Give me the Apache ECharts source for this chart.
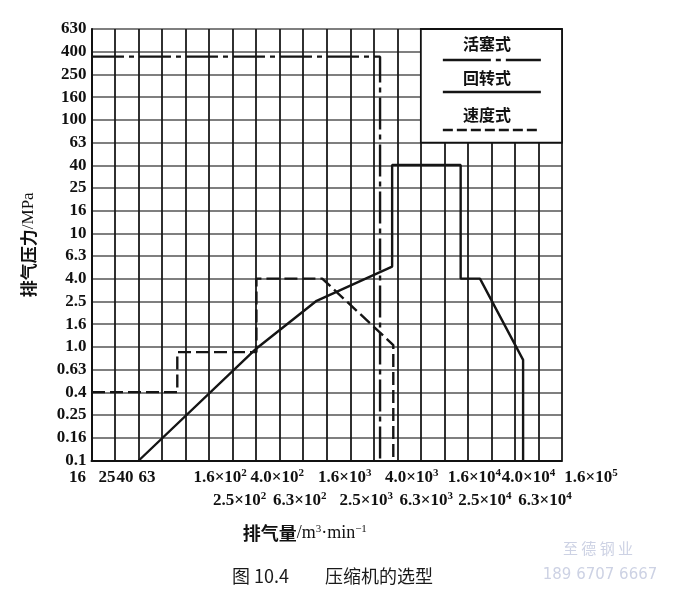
<!DOCTYPE html>
<html><head><meta charset="utf-8">
<script src="https://cdn.jsdelivr.net/npm/echarts@6/dist/echarts.min.js"></script>
<style>html,body{margin:0;padding:0;background:#fff}#c{width:700px;height:597px}</style>
</head><body><div id="c"></div>
<script>
// ---------- data ----------
// flow in m3/min, pressure in MPa
const pistonFlow       = [16, 4500, 4500];
const pistonPressure   = [360, 360, 0.1];
const rotaryFlow       = [40, 400, 1300, 5700, 5700, 21800, 21800, 31800, 74000, 74000];
const rotaryPressure   = [0.1, 0.97, 2.55, 5.1, 40, 40, 4.0, 4.0, 0.77, 0.1];
const velocityFlow     = [16, 85, 85, 400, 400, 1450, 4950, 5830, 5830];
const velocityPressure = [0.4, 0.4, 0.9, 0.9, 4.0, 4.0, 1.22, 1.04, 0.1];

// tick labels (grid steps of 10^0.2); '^' marks a superscript
const yTickLabels = ['0.1','0.16','0.25','0.4','0.63','1.0','1.6','2.5','4.0','6.3','10','16','25','40','63','100','160','250','400','630'];
const xRow1Labels = ['16','25','40','63','','1.6×10^2','','4.0×10^2','','','1.6×10^3','','4.0×10^3','','','1.6×10^4','','4.0×10^4','','','1.6×10^5'];
const xRow2Labels = ['','','','','','','2.5×10^2','','6.3×10^2','','','2.5×10^3','','6.3×10^3','','','2.5×10^4','','6.3×10^4','',''];
const seriesNames = ['活塞式','回转式','速度式'];

// ---------- layout (label nudges in px, not data) ----------
const row1Nudge = {0:-14,1:-8,2:-13.5,3:-15,5:11,7:21,10:18,12:38,15:30,17:37,20:29};
const row2Nudge = {6:7,8:20,11:16,13:29,16:17,18:30};

const FONT = 'Liberation Serif';
const CJK = 'Noto Sans CJK SC';
const X_MIN = 6, X_MAX = 26, Y_MIN = -5, Y_MAX = 14;   // axis units: 5*log10(value)
const toK = v => 5 * Math.log10(v);
const pairs = (xs, ys) => xs.map((x, i) => [toK(x), toK(ys[i])]);

const baseTxt = {fontFamily: FONT, fontSize: 17, fontWeight: 'bold', color: '#111', lineHeight: 20};
const supTxt = {fontFamily: FONT, fontSize: 11, fontWeight: 'bold', color: '#111', lineHeight: 12, verticalAlign: 'top'};

function richFor(nudge) {
  const r = {n: Object.assign({}, baseTxt), s: Object.assign({}, supTxt)};
  Object.keys(nudge).forEach(k => {
    r['o' + k] = Object.assign({}, baseTxt, {padding: [0, 0, 0, 2 * nudge[k]]});
  });
  return r;
}
function tickFormatter(labels, nudge) {
  return function (value) {
    const i = Math.round(value - X_MIN);
    const t = labels[i];
    if (!t) return '';
    const key = nudge[i] !== undefined ? 'o' + i : 'n';
    const p = t.split('^');
    return '{' + key + '|' + p[0] + '}' + (p.length > 1 ? '{s|' + p[1] + '}' : '');
  };
}

const chart = echarts.init(document.getElementById('c'), null, {renderer: 'canvas'});
const lineBase = {type: 'line', showSymbol: false, silent: true, animation: false};

chart.setOption({
  backgroundColor: '#ffffff',
  animation: false,
  title: {
    text: '图 10.4　　压缩机的选型', left: 227, top: 562,
    textStyle: {fontFamily: CJK, fontSize: 18, fontWeight: 'normal', color: '#1a1a1a'}
  },
  grid: {left: 91.5, right: 138, top: 29, bottom: 136.5, containLabel: false},
  xAxis: [{
    type: 'value', min: X_MIN, max: X_MAX, interval: 1,
    axisLine: {show: true, onZero: false, lineStyle: {color: '#111', width: 2}},
    axisTick: {show: false},
    splitLine: {show: true, lineStyle: {color: '#1a1a1a', width: 1.8}},
    axisLabel: {margin: 7, formatter: tickFormatter(xRow1Labels, row1Nudge), rich: richFor(row1Nudge),
      hideOverlap: false, showMinLabel: true, showMaxLabel: true},
    name: '{c|排气量}{e|/m}{s|3}{e|·min}{s|−1}', nameLocation: 'middle', nameGap: 63,
    nameTextStyle: {padding: [0, 44, 0, 0], rich: {
      c: {fontFamily: CJK, fontSize: 18, fontWeight: 'bold', color: '#111', lineHeight: 20},
      e: {fontFamily: FONT, fontSize: 18, color: '#111', lineHeight: 20},
      s: {fontFamily: FONT, fontSize: 11, color: '#111', lineHeight: 12, verticalAlign: 'top'}}}
  }, {
    type: 'value', min: X_MIN, max: X_MAX, interval: 1, position: 'bottom',
    axisLine: {show: false}, axisTick: {show: false}, splitLine: {show: false},
    axisLabel: {margin: 30, formatter: tickFormatter(xRow2Labels, row2Nudge), rich: richFor(row2Nudge),
      hideOverlap: false, showMinLabel: true, showMaxLabel: true}
  }],
  yAxis: {
    type: 'value', min: Y_MIN, max: Y_MAX, interval: 1,
    axisLine: {show: true, onZero: false, lineStyle: {color: '#111', width: 2}},
    axisTick: {show: false},
    splitLine: {show: true, lineStyle: {color: '#555', width: 1.6}},
    axisLabel: {margin: 5, formatter: v => yTickLabels[Math.round(v - Y_MIN)] || '',
      fontFamily: FONT, fontSize: 17, fontWeight: 'bold', color: '#111', showMinLabel: true, showMaxLabel: true},
    name: '{c|排气压力}{e|/MPa}', nameLocation: 'middle', nameGap: 54, nameRotate: 90,
    nameTextStyle: {rich: {
      c: {fontFamily: CJK, fontSize: 17, fontWeight: 'bold', color: '#111'},
      e: {fontFamily: FONT, fontSize: 17, color: '#111'}}}
  },
  series: [
    Object.assign({}, lineBase, {name: seriesNames[0], data: pairs(pistonFlow, pistonPressure),
      lineStyle: {color: '#151515', width: 2.4, type: [32, 5, 5, 5]}}),
    Object.assign({}, lineBase, {name: seriesNames[1], data: pairs(rotaryFlow, rotaryPressure),
      lineStyle: {color: '#151515', width: 2.4, type: 'solid'}}),
    Object.assign({}, lineBase, {name: seriesNames[2], data: pairs(velocityFlow, velocityPressure),
      lineStyle: {color: '#151515', width: 2.4, type: [13, 5]}})
  ]
});

// legend box occupying the grid cells 1e4..max x 63..max
const p0 = chart.convertToPixel({xAxisIndex: 0, yAxisIndex: 0}, [20, Y_MAX]);
const p1 = chart.convertToPixel({xAxisIndex: 0, yAxisIndex: 0}, [X_MAX, 9]);
const bx = p0[0], by = p0[1], bw = p1[0] - p0[0], bh = p1[1] - p0[1];
const cx = bx + bw * 0.468;
const lx0 = bx + 22, lx1 = bx + 120;
const legendDash = [[48, 5, 5, 5], null, [10, 4]];
const legendTextY = [15, 49, 86], legendLineY = [31, 63, 101];
const legendEls = [{type: 'rect', shape: {x: bx, y: by, width: bw, height: bh},
  style: {fill: '#fff', stroke: '#111', lineWidth: 1.8}}];
seriesNames.forEach((n, i) => {
  legendEls.push({type: 'text', style: {text: n, x: cx, y: by + legendTextY[i], align: 'center', verticalAlign: 'middle',
    font: 'bold 16px "Noto Sans CJK SC"', fill: '#111'}});
  legendEls.push({type: 'line', shape: {x1: lx0, y1: by + legendLineY[i], x2: lx1, y2: by + legendLineY[i]},
    style: {stroke: '#151515', lineWidth: 2.4, lineDash: legendDash[i]}});
});
// faint watermark of the scanned page
legendEls.push({type: 'text', style: {text: '至 德 钢 业', x: 598, y: 548, align: 'center', verticalAlign: 'middle',
  font: '15px "Noto Sans CJK SC"', fill: '#cdd2e4'}});
legendEls.push({type: 'text', style: {text: '189 6707 6667', x: 600, y: 575, align: 'center', verticalAlign: 'middle',
  font: '15px "DejaVu Sans"', fill: '#cdd2e4'}});
chart.setOption({graphic: {elements: legendEls.map(e => Object.assign({z: 100}, e))}});
</script></body></html>
